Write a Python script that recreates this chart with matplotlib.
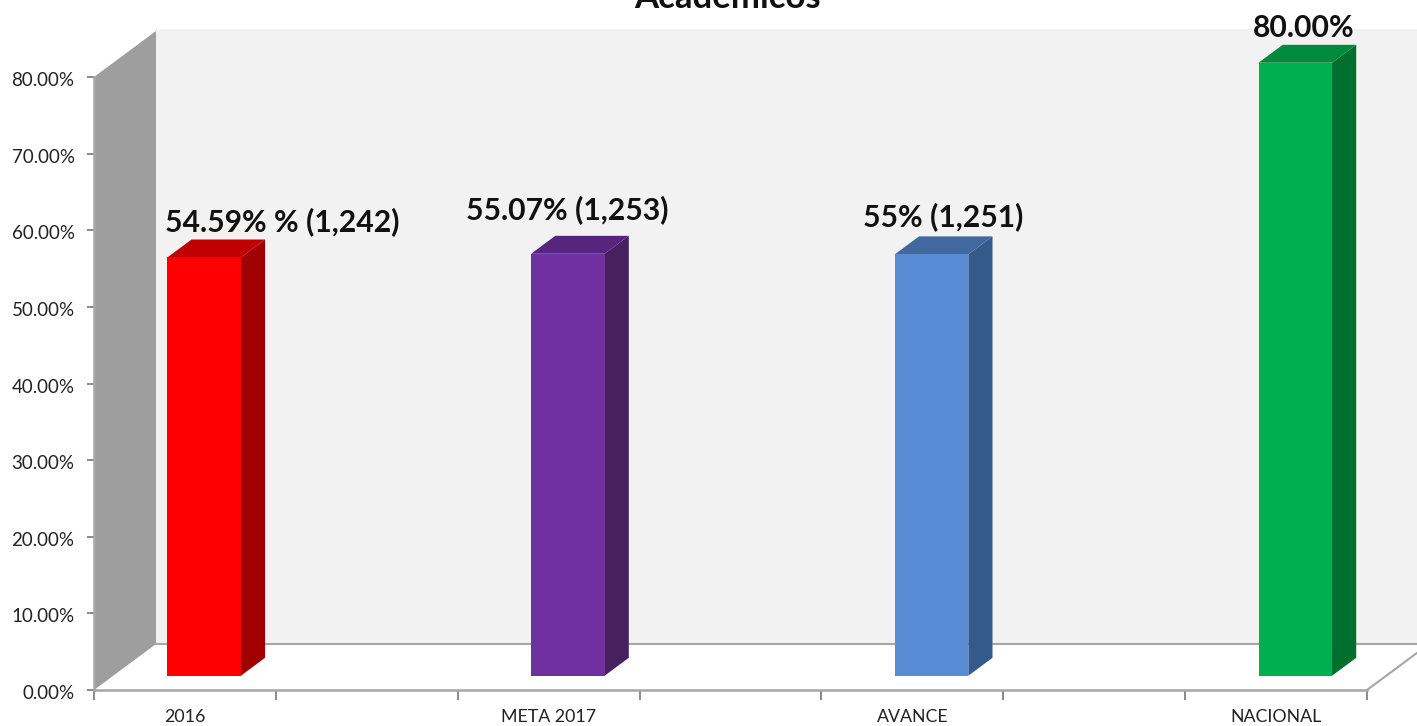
import matplotlib
matplotlib.use("Agg")
import matplotlib.pyplot as plt
from matplotlib.patches import Polygon
from matplotlib.transforms import ScaledTranslation

plt.rcParams['font.family'] = ['Lato', 'DejaVu Sans']

categories = ['2016', '', 'META 2017', '', 'AVANCE', '', 'NACIONAL']
values = [54.59, None, 55.07, None, 55.0, None, 80.0]
value_labels = ['54.59% % (1,242)', '', '55.07% (1,253)', '', '55% (1,251)', '', '80.00%']
title = 'Académicos'
y_ticks = [0, 10, 20, 30, 40, 50, 60, 70, 80]

front_colors = ['#ff0000', None, '#7030a0', None, '#578bd3', None, '#00b050']
top_colors = ['#c00000', None, '#57257d', None, '#41699f', None, '#008a3e']
side_colors = ['#a00000', None, '#47215f', None, '#345a8c', None, '#00702f']
label_offsets = [(78, 36), None, (-1, 44), None, (12, 38), None, (8, 35)]

W, H = 1417, 726
L, R, B, T = 94, 1367, 690, 77
fig = plt.figure(figsize=(W / 100, H / 100), dpi=100, facecolor='white')
ax = fig.add_axes([L / W, 1 - B / H, (R - L) / W, (B - T) / H])
ax.set_xlim(0, len(categories))
ax.set_ylim(0, 80)
ax.patch.set_alpha(0)

DX = 62 / ((R - L) / len(categories))
DY = 46 / ((B - T) / 80)


def proj(x, y, d):
    return (x + DX * d, y + DY * d)


def poly(pts, color, z, **kw):
    ax.add_patch(Polygon(pts, closed=True, facecolor=color, edgecolor=kw.pop('ec', 'none'),
                         linewidth=kw.pop('lw', 0), clip_on=False, zorder=z, **kw))


n = len(categories)
top_val = 80.0
# back wall, floor, side wall
poly([proj(0, 0, 1), proj(n + 1, 0, 1), proj(n + 1, top_val + 0.3, 1), proj(0, top_val + 0.3, 1)], '#f2f2f2', 1)
poly([proj(0, 0, 0), proj(n, 0, 0), proj(n, 0, 1), proj(0, 0, 1)], 'white', 1.5)
poly([proj(0, 0, 0), proj(0, 0, 1), proj(0, top_val, 1), proj(0, top_val, 0)], '#9e9e9e', 2)
ax.plot([proj(0, 0, 1)[0], proj(n + 1, 0, 1)[0]], [proj(0, 0, 1)[1]] * 2, color='#a6a6a6', lw=1.5,
        clip_on=False, zorder=2)
ax.plot([n, proj(n, 0, 1)[0]], [0, proj(n, 0, 1)[1]], color='#a6a6a6', lw=1.5, clip_on=False, zorder=2)

bar_w = 73.5 / ((R - L) / n)
d0, d1 = 0.31, 0.70
for i, v in enumerate(values):
    if v is None:
        continue
    c = i + 0.5
    x0, x1 = c - bar_w / 2, c + bar_w / 2
    poly([proj(x1, 0, d0), proj(x1, 0, d1), proj(x1, v, d1), proj(x1, v, d0)], side_colors[i], 3)
    poly([proj(x0, v, d0), proj(x1, v, d0), proj(x1, v, d1), proj(x0, v, d1)], top_colors[i], 3)
    poly([proj(x0, 0, d0), proj(x1, 0, d0), proj(x1, v, d0), proj(x0, v, d0)], front_colors[i], 4)
    ax.annotate(value_labels[i], xy=proj(c, v, d0), xytext=label_offsets[i], textcoords='offset pixels',
                ha='center', va='center', fontsize=21.7, fontweight='bold', color='#111111',
                annotation_clip=False, zorder=6)

for s in ['top', 'right']:
    ax.spines[s].set_visible(False)
for s in ['left', 'bottom']:
    ax.spines[s].set_color('#a6a6a6')
    ax.spines[s].set_linewidth(1.8)
    ax.spines[s].set_zorder(5)

ax.set_yticks(y_ticks)
ax.set_yticklabels([f'{t:.2f}%' for t in y_ticks], fontsize=13.5, color='#222222')
ax.tick_params(axis='y', length=5, width=1.3, color='#808080', pad=9)
shift = ScaledTranslation(0, -2 / 100, fig.dpi_scale_trans)
for lab in ax.get_yticklabels():
    lab.set_transform(lab.get_transform() + shift)
ax.set_xticks(range(n + 1))
ax.set_xticklabels([''] * (n + 1))
ax.tick_params(axis='x', which='major', length=7, width=1.3, color='#808080')
ax.set_xticks([i + 0.5 for i in range(n)], minor=True)
ax.set_xticklabels(categories, minor=True, fontsize=12.8, color='#222222')
ax.tick_params(axis='x', which='minor', length=0, pad=13.5)

fig.text(727 / W, 1 - 7.5 / H, title, ha='center', va='baseline', fontsize=25, fontweight='bold', color='#111111')
fig.savefig('out.png', dpi=100, facecolor='white')
